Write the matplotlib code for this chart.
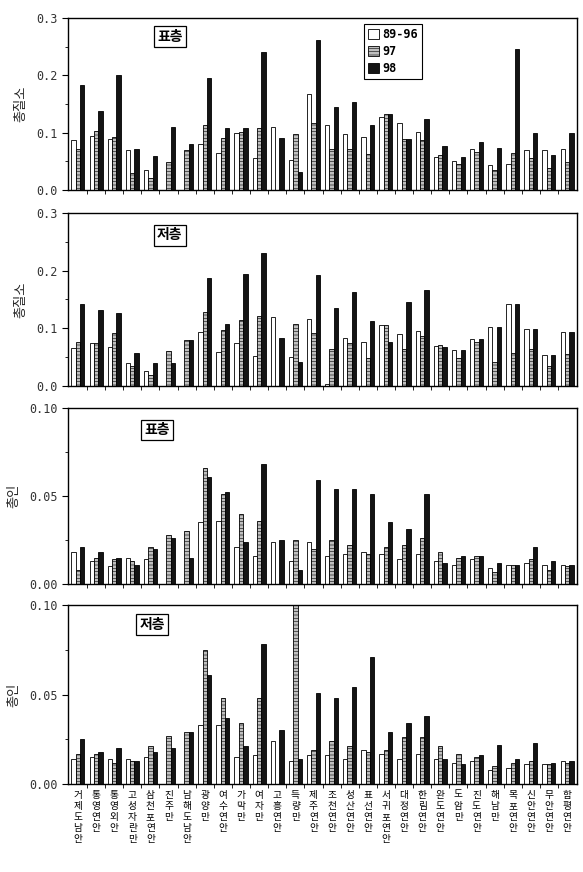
import matplotlib
matplotlib.use('Agg')
import matplotlib.pyplot as plt
from matplotlib.patches import Patch
from matplotlib.ticker import MultipleLocator, FixedLocator
import numpy as np

plt.rcParams['font.family'] = ['Noto Sans CJK KR', 'DejaVu Sans']
plt.rcParams['hatch.linewidth'] = 0.4

sites = ['거제도남안', '통영연안', '통영외안', '고성자란만', '삼천포연안', '진주만',
         '남해도남안', '광양만', '여수연안', '가막만', '여자만', '고흥연안', '득량만',
         '제주연안', '조천연안', '성산연안', '표선연안', '서귀포연안', '대정연안',
         '한림연안', '완도연안', '도암만', '진도연안', '해남만', '목포연안',
         '신안연안', '무안연안', '함평연안']
series_names = ['89-96', '97', '98']

# 총질소 - 표층
tn_surf_8996 = [0.087, 0.094, 0.089, 0.069, 0.035, 0.0, 0.0, 0.081, 0.064, 0.099,
                0.055, 0.110, 0.053, 0.167, 0.114, 0.098, 0.093, 0.127, 0.117, 0.101,
                0.058, 0.050, 0.072, 0.044, 0.045, 0.069, 0.070, 0.072]
tn_surf_97 = [0.072, 0.103, 0.092, 0.029, 0.021, 0.048, 0.069, 0.114, 0.090, 0.101,
              0.108, 0.0, 0.098, 0.116, 0.072, 0.072, 0.062, 0.132, 0.089, 0.087,
              0.061, 0.046, 0.066, 0.035, 0.064, 0.056, 0.039, 0.048]
tn_surf_98 = [0.183, 0.138, 0.201, 0.072, 0.060, 0.110, 0.080, 0.195, 0.109, 0.108,
              0.241, 0.091, 0.032, 0.261, 0.144, 0.153, 0.113, 0.132, 0.089, 0.123,
              0.076, 0.058, 0.083, 0.074, 0.246, 0.099, 0.061, 0.099]

# 총질소 - 저층
tn_bot_8996 = [0.066, 0.074, 0.067, 0.040, 0.026, 0.0, 0.0, 0.094, 0.059, 0.074,
               0.052, 0.119, 0.050, 0.117, 0.003, 0.083, 0.077, 0.105, 0.091, 0.095,
               0.069, 0.063, 0.081, 0.102, 0.143, 0.098, 0.053, 0.093]
tn_bot_97 = [0.076, 0.075, 0.092, 0.034, 0.019, 0.061, 0.080, 0.128, 0.097, 0.114,
             0.121, 0.0, 0.108, 0.092, 0.065, 0.074, 0.048, 0.105, 0.065, 0.087,
             0.071, 0.048, 0.076, 0.041, 0.058, 0.064, 0.035, 0.056]
tn_bot_98 = [0.142, 0.131, 0.126, 0.057, 0.040, 0.040, 0.080, 0.188, 0.108, 0.195,
             0.230, 0.084, 0.041, 0.192, 0.135, 0.163, 0.112, 0.076, 0.145, 0.166,
             0.068, 0.062, 0.081, 0.102, 0.143, 0.098, 0.053, 0.093]

# 총인 - 표층
tp_surf_8996 = [0.018, 0.013, 0.010, 0.015, 0.014, 0.0, 0.0, 0.035, 0.036, 0.021,
                0.016, 0.024, 0.013, 0.024, 0.016, 0.017, 0.018, 0.017, 0.014, 0.017,
                0.013, 0.011, 0.014, 0.009, 0.011, 0.012, 0.011, 0.011]
tp_surf_97 = [0.008, 0.015, 0.014, 0.013, 0.021, 0.028, 0.030, 0.066, 0.051, 0.040,
              0.036, 0.0, 0.025, 0.020, 0.025, 0.022, 0.017, 0.021, 0.022, 0.026,
              0.018, 0.015, 0.016, 0.007, 0.011, 0.014, 0.008, 0.010]
tp_surf_98 = [0.021, 0.018, 0.015, 0.011, 0.020, 0.026, 0.015, 0.061, 0.052, 0.024,
              0.068, 0.025, 0.008, 0.059, 0.054, 0.054, 0.051, 0.035, 0.031, 0.051,
              0.012, 0.016, 0.016, 0.012, 0.011, 0.021, 0.013, 0.011]

# 총인 - 저층
tp_bot_8996 = [0.014, 0.015, 0.014, 0.014, 0.015, 0.0, 0.0, 0.033, 0.033, 0.015,
               0.016, 0.024, 0.013, 0.016, 0.016, 0.014, 0.019, 0.017, 0.014, 0.017,
               0.014, 0.012, 0.013, 0.008, 0.009, 0.011, 0.011, 0.013]
tp_bot_97 = [0.017, 0.017, 0.012, 0.013, 0.021, 0.027, 0.029, 0.075, 0.048, 0.034,
             0.048, 0.0, 0.102, 0.019, 0.024, 0.021, 0.018, 0.019, 0.026, 0.026,
             0.021, 0.017, 0.015, 0.010, 0.012, 0.013, 0.011, 0.012]
tp_bot_98 = [0.025, 0.018, 0.020, 0.013, 0.018, 0.020, 0.029, 0.061, 0.037, 0.021,
             0.078, 0.030, 0.014, 0.051, 0.048, 0.054, 0.071, 0.029, 0.034, 0.038,
             0.014, 0.011, 0.016, 0.022, 0.014, 0.023, 0.012, 0.013]

panels = [
    ([tn_surf_8996, tn_surf_97, tn_surf_98], '총질소', '표층', 0.3, 0.1, 0.05, '%.1f', (0.20, 0.89)),
    ([tn_bot_8996, tn_bot_97, tn_bot_98], '총질소', '저층', 0.3, 0.1, 0.05, '%.1f', (0.20, 0.87)),
    ([tp_surf_8996, tp_surf_97, tp_surf_98], '총인', '표층', 0.10, 0.05, 0.025, '%.2f', (0.175, 0.875)),
    ([tp_bot_8996, tp_bot_97, tp_bot_98], '총인', '저층', 0.10, 0.05, 0.025, '%.2f', (0.165, 0.89)),
]

# axes boxes in pixels (top, bottom) of a 583x872 figure
boxes = [(18, 190), (213, 386), (408, 584), (605, 784)]
W, H = 583, 872
left, right = 68, 577

styles = [dict(facecolor='white', hatch=None),
          dict(facecolor='0.75', hatch='-----'),
          dict(facecolor='0.08', hatch=None)]

fig = plt.figure(figsize=(W / 100, H / 100), dpi=100)
x = np.arange(len(sites))
bw = 0.24

for k, ((vals, ylab, tag, ymax, major, minor, fmt, tagpos), (top, bot)) in enumerate(zip(panels, boxes)):
    ax = fig.add_axes([left / W, 1 - bot / H, (right - left) / W, (bot - top) / H])
    for j, (v, st) in enumerate(zip(vals, styles)):
        ax.bar(x + (j - 1) * bw, v, width=bw, facecolor=st['facecolor'], hatch=st['hatch'],
               edgecolor='black', linewidth=0.6, label=series_names[j])
    ax.set_xlim(-0.55, len(sites) - 0.45)
    ax.set_ylim(0, ymax)
    ax.yaxis.set_major_locator(MultipleLocator(major))
    ax.yaxis.set_minor_locator(MultipleLocator(minor))
    ax.yaxis.set_major_formatter(plt.FormatStrFormatter(fmt))
    for lab in ax.get_yticklabels():
        lab.set_family('DejaVu Sans Mono')
    ax.tick_params(axis='y', which='major', direction='out', length=4, labelsize=8.5,
                   labelcolor='0.2')
    ax.tick_params(axis='y', which='minor', direction='out', length=2.5)
    ax.xaxis.set_minor_locator(FixedLocator(x[:-1] + 0.5))
    ax.tick_params(axis='x', which='minor', direction='out', length=3)
    ax.set_xticks(x)
    if k == 3:
        ax.set_xticklabels(['\n'.join(s) for s in sites], fontsize=7, linespacing=1.15,
                           va='top')
        ax.tick_params(axis='x', which='major', length=0, pad=4)
    else:
        ax.tick_params(axis='x', which='major', length=0, labelbottom=False)
    ax.set_ylabel(ylab, fontsize=9.5, labelpad=6, color='0.15')
    for sp in ax.spines.values():
        sp.set_linewidth(1.0)
    ax.text(tagpos[0], tagpos[1], tag, transform=ax.transAxes, ha='center', va='center',
            fontsize=10, fontweight='bold',
            bbox=dict(boxstyle='square,pad=0.25', facecolor='white', edgecolor='black', linewidth=0.9))
    if k == 0:
        handles = [Patch(facecolor=st['facecolor'], hatch=st['hatch'], edgecolor='black', linewidth=0.6)
                   for st in styles]
        leg = ax.legend(handles, series_names, loc='upper left', bbox_to_anchor=(0.57, 1.0),
                        fancybox=False, edgecolor='black', framealpha=1,
                        handlelength=0.9, handleheight=0.9, handletextpad=0.3,
                        borderpad=0.35, labelspacing=0.35,
                        prop={'family': 'DejaVu Sans Mono', 'weight': 'bold', 'size': 8.5})
        leg.get_frame().set_linewidth(0.8)

fig.savefig('out.png', dpi=100)
